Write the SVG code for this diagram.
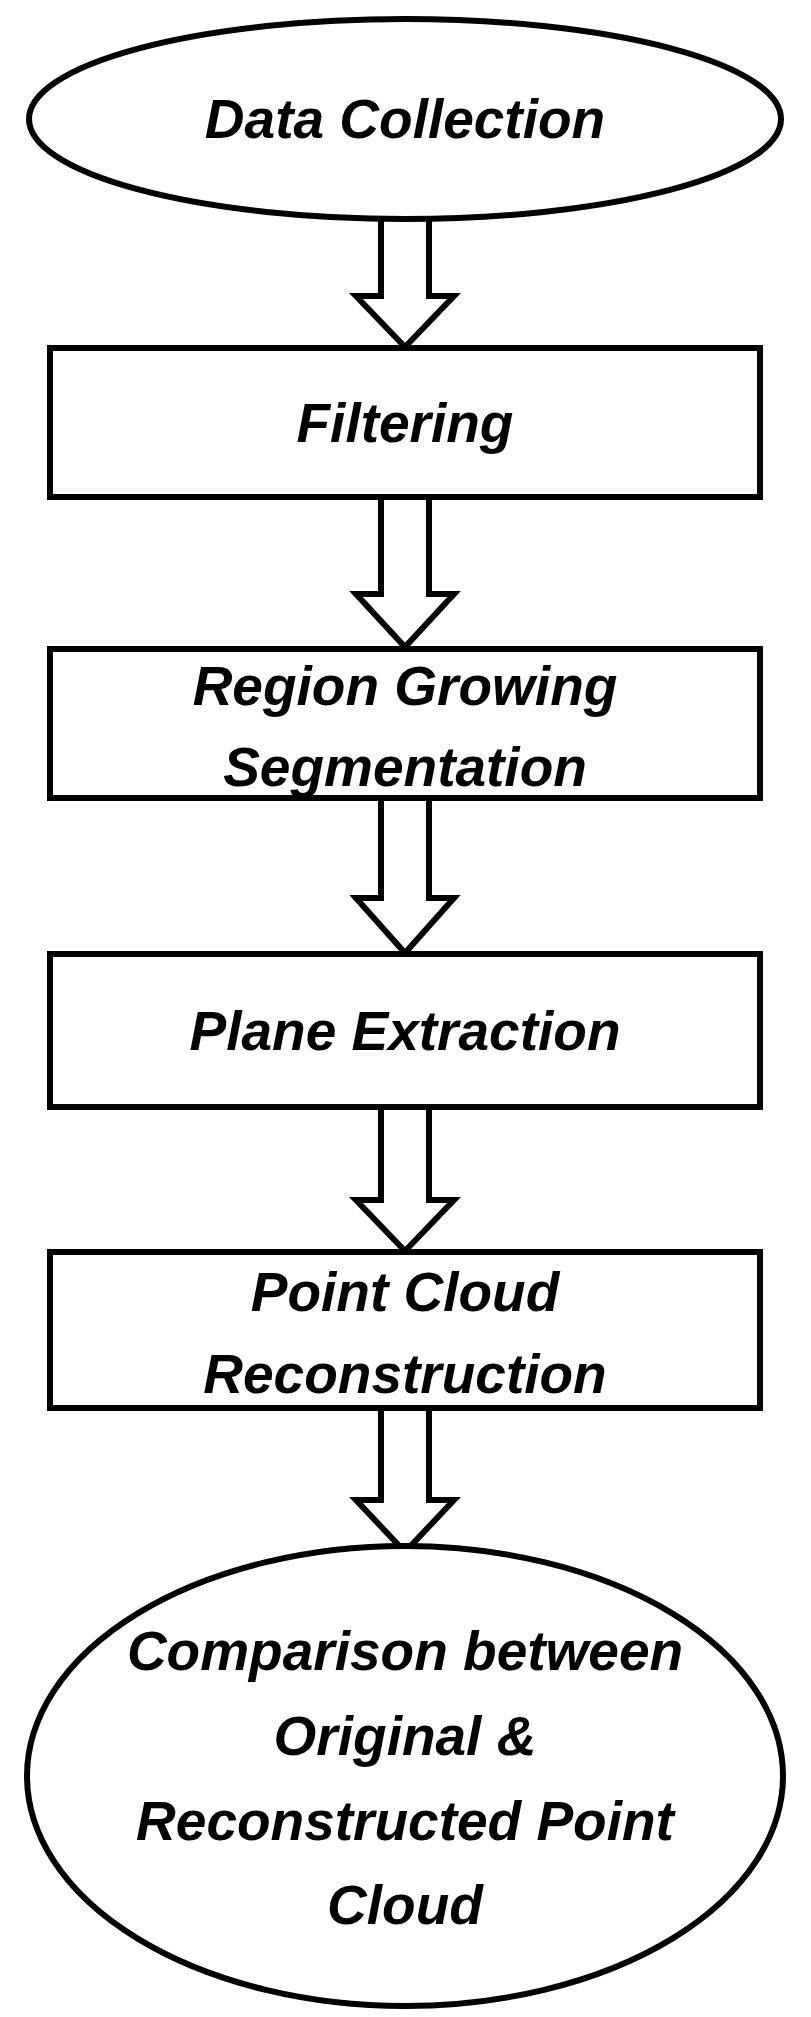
<svg xmlns="http://www.w3.org/2000/svg" width="811" height="2017" viewBox="0 0 811 2017">
<style>
.s{fill:#fff;stroke:#000;stroke-width:6}
.t{font-family:"Liberation Sans",Arial,sans-serif;font-weight:bold;font-style:italic;font-size:55px;text-anchor:middle}
.a{fill:#fff;stroke:#000;stroke-width:6;stroke-linejoin:miter}
</style>
<rect width="811" height="2017" fill="#fff"/>
<g id="connectors">
<path class="a" d="M381,218 V296 H356 L405,347 L454,296 H429 V218 Z"/>
<path class="a" d="M381,497 V594 H356 L405,647 L454,594 H429 V497 Z"/>
<path class="a" d="M381,798 V898 H356 L405,953 L454,898 H429 V798 Z"/>
<path class="a" d="M381,1107 V1200 H356 L405,1251 L454,1200 H429 V1107 Z"/>
<path class="a" d="M381,1408 V1500 H356 L405,1552 L454,1500 H429 V1408 Z"/>
</g>
<g id="n1"><ellipse class="s" cx="405" cy="119" rx="376" ry="100"/><text class="t" x="405" y="138">Data Collection</text></g>
<g id="n2"><rect class="s" x="50" y="348" width="710" height="149"/><text class="t" x="405" y="442">Filtering</text></g>
<g id="n3"><rect class="s" x="50" y="649" width="710" height="149"/><text class="t" x="405" y="705">Region Growing</text><text class="t" x="405" y="786">Segmentation</text></g>
<g id="n4"><rect class="s" x="50" y="954" width="710" height="153"/><text class="t" x="405" y="1050">Plane Extraction</text></g>
<g id="n5"><rect class="s" x="50" y="1252" width="710" height="156"/><text class="t" x="405" y="1311">Point Cloud</text><text class="t" x="405" y="1393">Reconstruction</text></g>
<g id="n6"><ellipse class="s" cx="405" cy="1776" rx="378" ry="230"/>
<text class="t" x="405" y="1670">Comparison between</text>
<text class="t" x="405" y="1755">Original &amp;</text>
<text class="t" x="405" y="1840">Reconstructed Point</text>
<text class="t" x="405" y="1924">Cloud</text></g>
</svg>
